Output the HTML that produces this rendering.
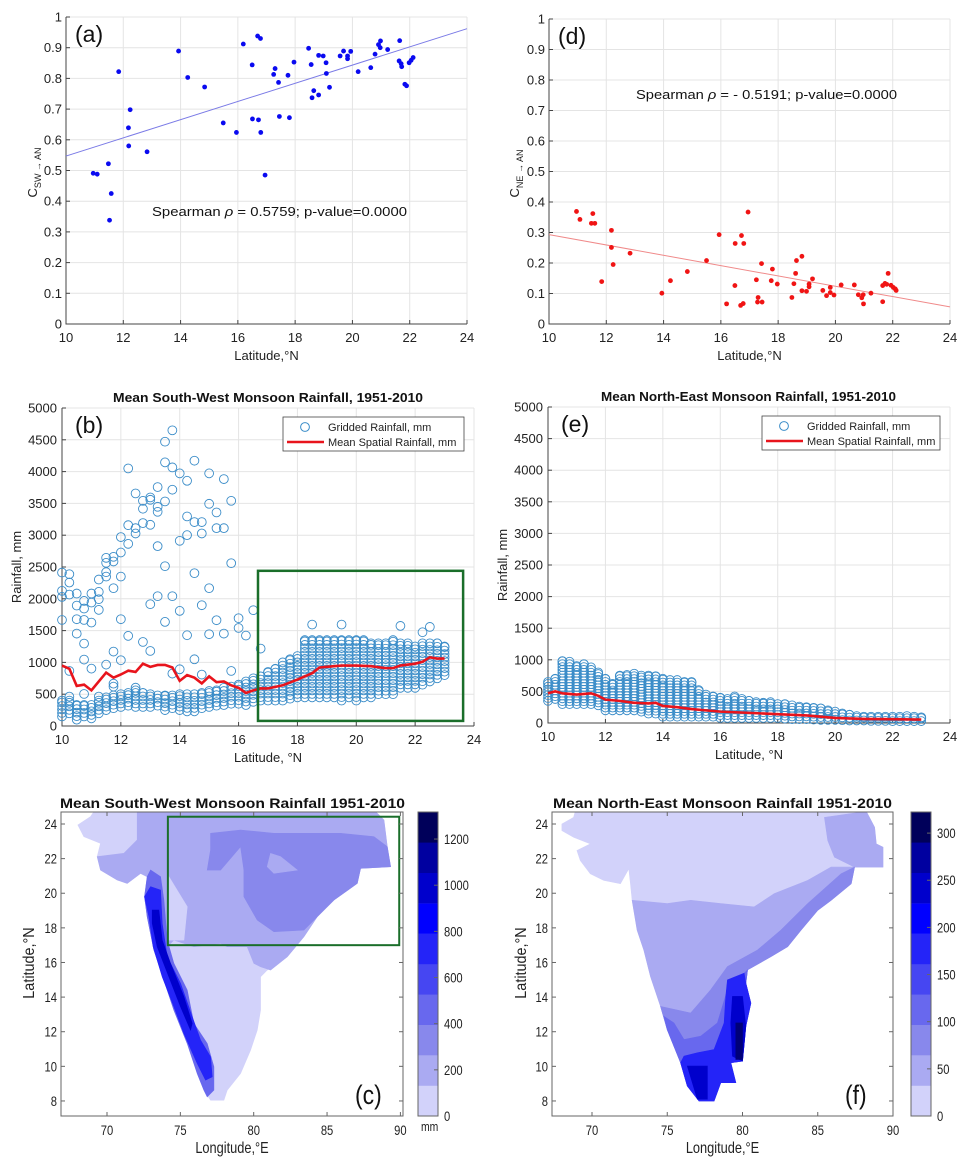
<!DOCTYPE html>
<html><head><meta charset="utf-8"><style>
html,body{margin:0;padding:0;background:#fff}
svg{display:block;font-family:"Liberation Sans",Arial,sans-serif}
</style></head><body>
<svg id="fig" width="971" height="1168" viewBox="0 0 971 1168" xmlns="http://www.w3.org/2000/svg"></svg>
<script>
// ---------- DATA ----------
// (a) correlation SW vs latitude
const aLat=[10.95,11.09,11.48,11.58,11.52,11.84,12.18,12.24,12.19,12.83,13.93,14.25,14.84,15.49,15.95,16.19,16.50,16.51,16.69,16.79,16.72,16.80,16.95,17.25,17.30,17.42,17.45,17.75,17.80,17.96,18.47,18.56,18.59,18.65,18.82,18.82,18.98,19.08,19.09,19.20,19.57,19.69,19.83,19.83,19.94,20.20,20.64,20.79,20.91,20.98,20.97,21.23,21.65,21.63,21.70,21.72,21.83,21.89,21.98,22.05,22.12];
const aVal=[0.491,0.488,0.522,0.425,0.338,0.822,0.639,0.698,0.580,0.561,0.889,0.803,0.772,0.655,0.624,0.912,0.844,0.668,0.938,0.930,0.665,0.624,0.485,0.813,0.832,0.787,0.676,0.810,0.672,0.853,0.898,0.845,0.737,0.760,0.746,0.875,0.873,0.851,0.816,0.771,0.873,0.889,0.873,0.864,0.888,0.822,0.835,0.879,0.910,0.922,0.900,0.894,0.923,0.857,0.848,0.838,0.781,0.776,0.851,0.859,0.868];
const aFit=[0.547,0.962];
// (d) correlation NE vs latitude
const dLat=[10.96,11.08,11.53,11.48,11.60,11.84,12.18,12.18,12.24,12.83,13.94,14.24,14.83,15.50,15.94,16.20,16.50,16.49,16.72,16.80,16.69,16.78,16.95,17.24,17.30,17.28,17.42,17.44,17.76,17.80,17.97,18.48,18.55,18.61,18.64,18.83,18.83,18.99,19.08,19.08,19.20,19.56,19.69,19.82,19.82,19.95,20.20,20.66,20.80,20.92,20.97,20.98,21.24,21.65,21.65,21.73,21.84,21.79,21.94,22.02,22.09,22.12];
const dVal=[0.369,0.343,0.362,0.330,0.330,0.139,0.307,0.251,0.195,0.232,0.101,0.142,0.172,0.208,0.293,0.066,0.264,0.126,0.290,0.264,0.061,0.067,0.367,0.145,0.087,0.072,0.198,0.072,0.142,0.180,0.131,0.087,0.132,0.166,0.208,0.222,0.109,0.107,0.122,0.131,0.148,0.110,0.093,0.120,0.103,0.095,0.128,0.128,0.096,0.086,0.096,0.066,0.101,0.073,0.126,0.133,0.166,0.130,0.127,0.120,0.115,0.110];
const dFit=[0.293,0.056];
// (b) SW gridded rainfall: dense band per latitude + scattered outliers + mean line
const bBandLat=[10,10.25,10.5,10.75,11,11.25,11.5,11.75,12,12.25,12.5,12.75,13,13.25,13.5,13.75,14,14.25,14.5,14.75,15,15.25,15.5,15.75,16,16.25,16.5,16.75,17,17.25,17.5,17.75,18,18.25,18.5,18.75,19,19.25,19.5,19.75,20,20.25,20.5,20.75,21,21.25,21.5,21.75,22,22.25,22.5,22.75,23];
const bBandLow=[150,200,100,150,120,200,250,280,300,320,300,300,300,320,250,280,250,230,230,280,300,320,330,350,350,330,380,400,400,400,400,430,450,450,450,450,450,450,400,450,400,450,450,500,500,500,600,600,600,650,700,750,800];
const bBandHigh=[400,400,330,330,330,400,450,480,500,520,560,520,500,480,480,480,500,500,500,520,550,560,600,620,650,700,750,780,850,900,1000,1050,1100,1350,1350,1350,1350,1350,1350,1350,1350,1350,1300,1300,1300,1350,1300,1300,1250,1300,1300,1300,1250];
const bOutLat=[10,10,10,10,10.25,10.25,10.25,10.25,10.25,10.5,10.5,10.5,10.5,10.75,10.75,10.75,10.75,10.75,10.75,11,11,11,11,11.25,11.25,11.25,11.25,11.25,11.5,11.5,11.5,11.5,11.5,11.75,11.75,11.75,11.75,11.75,11.75,12,12,12,12,12,12.25,12.25,12.25,12.25,12.5,12.5,12.5,12.5,12.75,12.75,12.75,12.75,13,13,13,13,13,13.25,13.25,13.25,13.25,13.25,13.5,13.5,13.5,13.5,13.5,13.75,13.75,13.75,13.75,13.75,14,14,14,14,14.25,14.25,14.25,14.25,14.5,14.5,14.5,14.5,14.75,14.75,14.75,14.75,15,15,15,15,15.25,15.25,15.25,15.5,15.5,15.5,15.75,15.75,15.75,16,16,16.25,16.5,16.75,18.5,19.5,21.5,22.25,22.5];
const bOutVal=[2413,2125,2030,1668,2387,2256,2067,866,462,2083,1894,1679,1453,1967,1847,1668,1296,1044,504,2083,1941,1626,902,2303,2109,1994,1826,462,2644,2566,2419,2350,965,2660,2587,2167,1170,666,619,2970,2728,2350,1679,1034,4050,3158,2864,1417,3657,3111,3027,603,3541,3416,3190,1322,3594,3557,3164,1915,1180,3757,3447,3368,2828,2041,4470,4145,3531,2513,1637,4649,4066,3715,2041,824,3972,2912,1810,892,3856,3295,3001,1427,4171,3206,2403,1049,3206,3027,1899,808,3972,3494,2167,1443,3358,3111,1663,3882,3111,1453,3541,2560,866,1695,1542,1422,1821,1217,1595,1595,1574,1474,1558];
const bMeanLat=[10,10.25,10.5,10.75,11,11.25,11.5,11.75,12,12.25,12.5,12.75,13,13.25,13.5,13.75,14,14.25,14.5,14.75,15,15.25,15.5,15.75,16,16.25,16.5,16.75,17,17.5,18,18.5,18.75,19,19.5,20,20.5,21,21.25,21.5,22,22.25,22.5,22.75,23];
const bMeanVal=[950,900,630,650,560,700,840,760,810,870,850,980,930,960,960,920,710,800,760,670,780,690,700,640,600,520,560,590,590,640,730,830,920,930,950,950,940,910,910,950,980,1010,1080,1060,1060];
const bBox=[16.66,23.63,80,2440];
// (e) NE gridded rainfall
const eBandLat=[10,10.25,10.5,10.75,11,11.25,11.5,11.75,12,12.25,12.5,12.75,13,13.25,13.5,13.75,14,14.25,14.5,14.75,15,15.25,15.5,15.75,16,16.25,16.5,16.75,17,17.25,17.5,17.75,18,18.25,18.5,18.75,19,19.25,19.5,19.75,20,20.25,20.5,20.75,21,21.25,21.5,21.75,22,22.25,22.5,22.75,23];
const eBandLow=[350,380,300,300,300,300,300,280,200,200,200,200,200,180,150,150,100,100,100,100,100,100,100,100,80,80,80,80,80,80,80,80,80,70,60,60,60,55,50,50,50,45,40,40,40,35,35,35,30,30,30,30,30];
const eBandHigh=[650,700,980,970,900,930,880,800,700,620,750,760,780,750,750,740,700,680,680,650,650,520,450,420,400,380,420,380,350,330,320,330,300,300,280,260,250,240,230,200,180,150,130,110,100,100,100,100,100,100,110,100,90];
const eMeanLat=[10,10.25,10.5,11,11.5,11.75,12,12.5,13,13.5,13.75,14,14.5,15,15.5,16,16.5,17,18,19,19.5,20,21,22,23];
const eMeanVal=[470,500,470,450,470,430,370,350,320,310,320,270,250,220,200,180,170,160,140,120,100,80,65,60,55];
// colour scales
const cmap=['#d2d2fa','#aaaaf2','#8888ec','#6868ee','#4646f2','#2424f8','#0000ff','#0000cc','#0000a0','#000078'];
const cTop=['#00005a'];
const swTicks=[0,200,400,600,800,1000,1200];
const neTicks=[0,50,100,150,200,250,300];
const latTicks=[8,10,12,14,16,18,20,22,24];
const lonTicks=[70,75,80,85,90];

// ---------- helpers ----------
const NS='http://www.w3.org/2000/svg';
const svg=document.getElementById('fig');
function el(tag,attrs,parent){const e=document.createElementNS(NS,tag);for(const k in attrs)e.setAttribute(k,attrs[k]);(parent||svg).appendChild(e);return e;}
function txt(s,x,y,o,parent){const t=el('text',Object.assign({x:x,y:y,'font-size':12,fill:'#222'},o||{}),parent);t.textContent=s;return t;}
function grp(name){const g=el('g',{});return g;}

// ---------- scatter panels (a),(d) ----------
function corrPanel(cfg){
  const g=grp(cfg.name);
  const sx=v=>cfg.x0+(v-10)*(cfg.x1-cfg.x0)/14, sy=v=>cfg.y1-v*(cfg.y1-cfg.y0);
  for(let t=10;t<=24;t+=2){const l=el('line',{x1:sx(t),x2:sx(t),y1:cfg.y0,y2:cfg.y1,stroke:'#e4e4e4','stroke-width':1},g);}
  for(let i=0;i<=10;i++){const l=el('line',{x1:cfg.x0,x2:cfg.x1,y1:sy(i/10),y2:sy(i/10),stroke:'#e4e4e4','stroke-width':1},g);}
  const ax=el('path',{d:`M${cfg.x0},${cfg.y0}V${cfg.y1}H${cfg.x1}`,fill:'none',stroke:'#444','stroke-width':1},g);
  
  for(let t=10;t<=24;t+=2){el('line',{x1:sx(t),x2:sx(t),y1:cfg.y1,y2:cfg.y1-4,stroke:'#444'},g);
    const tl=txt(String(t),sx(t),cfg.y1+18,{'text-anchor':'middle','font-size':13},g);}
  for(let i=0;i<=10;i++){const v=i/10;el('line',{x1:cfg.x0,x2:cfg.x0+4,y1:sy(v),y2:sy(v),stroke:'#444'},g);
    const tl=txt(i===0?'0':(i===10?'1':v.toFixed(1)),cfg.x0-4,sy(v)+4.5,{'text-anchor':'end','font-size':13},g);}
  const fl=el('line',{x1:sx(10),y1:sy(cfg.fit[0]),x2:sx(24),y2:sy(cfg.fit[1]),stroke:cfg.lineColor,'stroke-width':1},g);
  
  for(let i=0;i<cfg.lat.length;i++){const c=el('circle',{cx:sx(cfg.lat[i]),cy:sy(cfg.val[i]),r:2.4,fill:cfg.dot},g);
    }
  const pl=txt(cfg.label,cfg.x0+9,cfg.y0+25,{'font-size':23,fill:'#111'},g);
  const st=txt('',cfg.sx,cfg.sy,{'font-size':13,fill:'#111',textLength:cfg.sw,lengthAdjust:'spacingAndGlyphs'},g);
  
  st.innerHTML=cfg.stat;
  const xl=txt('Latitude,°N',(cfg.x0+cfg.x1)/2,cfg.y1+36,{'text-anchor':'middle','font-size':13},g);
  const yl=el('text',{transform:`translate(${cfg.yx},${(cfg.y0+cfg.y1)/2+2}) rotate(-90)`,'text-anchor':'middle','font-size':13,fill:'#222'},g);
  
  yl.innerHTML=`C<tspan font-size="9" dy="4">${cfg.sub} → AN</tspan>`;
}
corrPanel({name:'panel-a',x0:66,x1:467,y0:17,y1:324,lat:aLat,val:aVal,fit:aFit,lineColor:'#7a7ae6',dot:'#0a0af0',label:'(a)',
  stat:'Spearman <tspan font-style="italic">ρ</tspan> =  0.5759; p-value=0.0000',sx:152,sy:216,sw:255,sub:'SW',yx:37});
corrPanel({name:'panel-d',x0:549,x1:950,y0:19,y1:324,lat:dLat,val:dVal,fit:dFit,lineColor:'#f08a8a',dot:'#f01414',label:'(d)',
  stat:'Spearman <tspan font-style="italic">ρ</tspan> = - 0.5191; p-value=0.0000',sx:636,sy:99,sw:261,sub:'NE',yx:519});

// ---------- rainfall panels (b),(e) ----------
function rainPanel(cfg){
  const g=grp(cfg.name);
  const sx=v=>cfg.x0+(v-10)*(cfg.x1-cfg.x0)/14, sy=v=>cfg.y1-v*(cfg.y1-cfg.y0)/5000;
  for(let t=10;t<=24;t+=2){const l=el('line',{x1:sx(t),x2:sx(t),y1:cfg.y0,y2:cfg.y1,stroke:'#e4e4e4'},g);}
  for(let v=0;v<=5000;v+=500){const l=el('line',{x1:cfg.x0,x2:cfg.x1,y1:sy(v),y2:sy(v),stroke:'#e4e4e4'},g);}
  const ax=el('path',{d:`M${cfg.x0},${cfg.y0}V${cfg.y1}H${cfg.x1}`,fill:'none',stroke:'#444'},g);
  
  for(let t=10;t<=24;t+=2){el('line',{x1:sx(t),x2:sx(t),y1:cfg.y1,y2:cfg.y1-4,stroke:'#444'},g);
    const tl=txt(String(t),sx(t),cfg.y1+18,{'text-anchor':'middle','font-size':13},g);}
  for(let v=0;v<=5000;v+=500){el('line',{x1:cfg.x0,x2:cfg.x0+4,y1:sy(v),y2:sy(v),stroke:'#444'},g);
    const tl=txt(String(v),cfg.x0-5,sy(v)+4.5,{'text-anchor':'end','font-size':13},g);}
  const pts=el('g',{fill:'none',stroke:'#3a8cc8','stroke-width':0.9},g);
  
  for(let i=0;i<cfg.bandLat.length;i++){
    for(let v=cfg.bandLow[i];v<=cfg.bandHigh[i];v+=cfg.step){const c=el('circle',{cx:sx(cfg.bandLat[i]),cy:sy(v),r:4.4},pts);
      }
    const c=el('circle',{cx:sx(cfg.bandLat[i]),cy:sy(cfg.bandHigh[i]),r:4.4},pts);
    
  }
  for(let i=0;i<cfg.outLat.length;i++){const c=el('circle',{cx:sx(cfg.outLat[i]),cy:sy(cfg.outVal[i]),r:4.4},pts);
    }
  const ml=el('polyline',{points:cfg.meanLat.map((l,i)=>sx(l)+','+sy(cfg.meanVal[i])).join(' '),fill:'none',stroke:'#e8141c','stroke-width':2.6},g);
  
  if(cfg.box){const b=el('rect',{x:sx(cfg.box[0]),y:sy(cfg.box[3]),width:sx(cfg.box[1])-sx(cfg.box[0]),height:sy(cfg.box[2])-sy(cfg.box[3]),fill:'none',stroke:'#1a6e2a','stroke-width':2.5},g);
    }
  // legend
  const lg=grp('legend');g.appendChild(lg);
  el('rect',{x:cfg.lx,y:cfg.y0+9,width:cfg.lw,height:34,fill:'#fff',stroke:'#444','stroke-width':0.8},lg);
  const c1=el('circle',{cx:cfg.lx+22,cy:cfg.y0+19,r:4.4,fill:'none',stroke:'#3a8cc8'},lg);
  const t1=txt('Gridded Rainfall, mm',cfg.lx+45,cfg.y0+23,{'font-size':11},lg);
  const l2=el('line',{x1:cfg.lx+4,x2:cfg.lx+41,y1:cfg.y0+34,y2:cfg.y0+34,stroke:'#e8141c','stroke-width':2.6},lg);
  const t2=txt('Mean Spatial Rainfall, mm',cfg.lx+45,cfg.y0+38,{'font-size':11},lg);
  const pl=txt(cfg.label,cfg.x0+13,cfg.y0+25,{'font-size':23,fill:'#111'},g);
  const ti=txt(cfg.title,cfg.tx,cfg.y0-6,{'font-size':13,'font-weight':'bold',fill:'#111',textLength:cfg.tw,lengthAdjust:'spacingAndGlyphs'},g);
  const xl=txt('Latitude, °N',(cfg.x0+cfg.x1)/2,cfg.y1+36,{'text-anchor':'middle','font-size':13},g);
  const yl=txt('Rainfall, mm',0,0,{'text-anchor':'middle','font-size':13,transform:`translate(${cfg.yx},${(cfg.y0+cfg.y1)/2}) rotate(-90)`},g);
}
rainPanel({name:'panel-b',x0:62,x1:474,y0:408,y1:726,bandLat:bBandLat,bandLow:bBandLow,bandHigh:bBandHigh,step:55,outLat:bOutLat,outVal:bOutVal,meanLat:bMeanLat,meanVal:bMeanVal,box:bBox,
  lx:283,lw:181,label:'(b)',title:'Mean South-West Monsoon Rainfall, 1951-2010',tx:113,tw:310,yx:21});
rainPanel({name:'panel-e',x0:548,x1:950,y0:407,y1:723,bandLat:eBandLat,bandLow:eBandLow,bandHigh:eBandHigh,step:45,outLat:[],outVal:[],meanLat:eMeanLat,meanVal:eMeanVal,box:null,
  lx:762,lw:178,label:'(e)',title:'Mean North-East Monsoon Rainfall, 1951-2010',tx:601,tw:295,yx:507});

// ---------- maps (c),(f) ----------
// outlines / zones (reference-crop coordinates converted to lon/lat)
const swRef=p=>[66.9+(p[0]-63)/44,24-(p[1]-102)/51.9];
const neRef=p=>[70+(p[0]-155)/45,24-(p[1]-100)/52.2];
const swZones=[
 {lv:0,pts:[[112,105],[150,80],[160,65],[1005,65],[1030,90],[1040,170],[1050,230],[960,235],[950,280],[880,330],[830,380],[790,440],[740,500],[680,540],[660,560],[660,660],[650,720],[630,780],[600,850],[560,900],[550,930],[510,930],[490,900],[470,850],[440,760],[400,660],[370,570],[340,480],[320,380],[312,320],[320,260],[300,250],[260,280],[230,270],[180,240],[170,200],[180,160],[130,140]]},
 {lv:1,pts:[[290,65],[1005,65],[1030,90],[1040,170],[1050,230],[960,235],[950,280],[880,330],[830,380],[790,440],[740,500],[690,540],[660,530],[640,520],[620,470],[560,470],[540,460],[460,470],[400,450],[380,470],[340,480],[320,380],[312,320],[320,260],[300,250],[260,280],[230,270],[180,240],[170,200],[250,190],[290,150]]},
 {lv:0,pts:[[385,260],[440,350],[430,450],[385,450]]},
 {lv:2,pts:[[510,130],[600,120],[700,130],[900,130],[1000,140],[1040,170],[1050,230],[960,235],[950,280],[880,330],[830,380],[790,420],[700,425],[650,390],[610,320],[610,240],[600,170],[540,240],[500,240],[510,180]]},
 {lv:1,pts:[[690,190],[720,200],[770,240],[700,250],[680,230]]},
 {lv:3,pts:[[330,240],[360,260],[370,330],[380,450],[400,520],[440,600],[460,700],[500,760],[520,830],[520,900],[500,920],[490,900],[470,850],[440,760],[400,660],[370,570],[340,480],[320,380],[312,320],[320,260]]},
 {lv:5,pts:[[330,290],[360,300],[365,400],[380,500],[420,580],[455,680],[480,750],[510,800],[515,860],[495,870],[470,820],[430,730],[400,650],[365,560],[338,470],[325,380],[312,320]]},
 {lv:7,pts:[[335,360],[355,360],[365,450],[390,520],[430,620],[455,700],[450,720],[420,650],[385,560],[350,470],[335,400]]}
];
const neZones=[
 {lv:0,pts:[[65,100],[100,80],[105,62],[975,62],[1000,110],[1005,160],[1025,170],[1025,230],[940,230],[930,280],[870,330],[830,360],[780,420],[740,470],[690,500],[620,540],[615,580],[630,640],[615,710],[605,815],[570,820],[585,880],[540,880],[520,935],[475,935],[440,890],[420,820],[380,720],[360,650],[330,560],[310,480],[290,420],[275,330],[270,280],[265,235],[240,280],[190,270],[150,250],[120,210],[110,180],[150,160],[100,140],[65,120]]},
 {lv:1,pts:[[850,80],[975,62],[1000,110],[1005,160],[1025,170],[1025,230],[940,230],[880,200],[860,150]]},
 {lv:1,pts:[[275,330],[380,340],[450,330],[540,340],[640,350],[700,310],[800,270],[870,230],[940,230],[930,280],[870,330],[830,360],[780,420],[740,470],[690,500],[620,540],[615,580],[630,640],[615,710],[605,815],[570,820],[585,880],[540,880],[520,935],[475,935],[440,890],[420,820],[380,720],[360,650],[330,560],[310,480],[290,420]]},
 {lv:2,pts:[[360,650],[450,670],[510,600],[560,530],[650,480],[720,420],[800,340],[900,250],[940,230],[930,280],[870,330],[830,360],[780,420],[740,470],[690,500],[620,540],[615,580],[630,640],[615,710],[605,815],[570,820],[585,880],[540,880],[520,935],[475,935],[440,890],[420,820],[380,720]]},
 {lv:3,pts:[[370,680],[400,700],[430,750],[480,740],[530,700],[560,600],[600,560],[620,540],[615,580],[630,640],[615,710],[605,815],[570,820],[585,880],[540,880],[520,935],[475,935],[440,890],[420,820],[380,720]]},
 {lv:5,pts:[[560,570],[610,550],[615,580],[630,640],[615,710],[605,815],[570,820],[585,880],[540,880],[520,935],[475,935],[440,890],[420,820],[430,800],[470,790],[520,780],[550,700],[555,620]]},
 {lv:7,pts:[[575,620],[605,620],[615,710],[605,815],[575,800],[570,700]]},
 {lv:7,pts:[[440,830],[500,830],[500,930],[470,930]]},
 {lv:9,pts:[[585,700],[605,700],[605,810],[585,810]]}
];
const swBox=[74.15,89.92,17.0,24.42];

function mapPanel(cfg){
  const g=grp(cfg.name);
  const sx=lon=>cfg.lon70+(lon-70)*cfg.pxDeg, sy=lat=>824+(24-lat)*17.31;
  const clip=el('clipPath',{id:cfg.name+'-clip'},g);
  el('rect',{x:cfg.x0,y:812,width:cfg.x1-cfg.x0,height:304},clip);
  const zg=el('g',{'clip-path':`url(#${cfg.name}-clip)`},g);
  
  cfg.zones.forEach(z=>{const p=el('polygon',{points:z.pts.map(q=>{const ll=cfg.ref(q);return sx(ll[0])+','+sy(ll[1]);}).join(' '),fill:cmap[z.lv],stroke:cmap[z.lv],'stroke-width':0.6},zg);
    });
  if(cfg.box){const b=el('rect',{x:sx(cfg.box[0]),y:sy(cfg.box[3]),width:sx(cfg.box[1])-sx(cfg.box[0]),height:sy(cfg.box[2])-sy(cfg.box[3]),fill:'none',stroke:'#1a6e2a','stroke-width':2},g);
    }
  const fr=el('rect',{x:cfg.x0,y:812,width:cfg.x1-cfg.x0,height:304,fill:'none',stroke:'#666','stroke-width':1},g);
  
  latTicks.forEach(t=>{el('line',{x1:cfg.x0,x2:cfg.x0+4,y1:sy(t),y2:sy(t),stroke:'#666'},g);el('line',{x1:cfg.x1,x2:cfg.x1-4,y1:sy(t),y2:sy(t),stroke:'#666'},g);
    const tl=txt(String(t),cfg.x0-4,sy(t)+5,{'text-anchor':'end','font-size':14,transform:`translate(${cfg.x0-4},0) scale(0.8,1) translate(${-(cfg.x0-4)},0)`},g);});
  lonTicks.forEach(t=>{el('line',{x1:sx(t),x2:sx(t),y1:1116,y2:1112,stroke:'#666'},g);el('line',{x1:sx(t),x2:sx(t),y1:812,y2:816,stroke:'#666'},g);
    const tl=txt(String(t),sx(t),1135,{'text-anchor':'middle','font-size':14,transform:`translate(${sx(t)},0) scale(0.8,1) translate(${-sx(t)},0)`},g);});
  // colorbar
  const cb=grp('colorbar');g.appendChild(cb);
  for(let i=0;i<10;i++){const r=el('rect',{x:cfg.cbx,y:1116-(i+1)*30.4,width:20,height:30.6,fill:i===9?cTop[0]:cmap[i]},cb);}
  el('rect',{x:cfg.cbx,y:812,width:20,height:304,fill:'none',stroke:'#666'},cb);
  cfg.cbTicks.forEach(v=>{const y=1116-v*cfg.cbScale;el('line',{x1:cfg.cbx+20,x2:cfg.cbx+16,y1:y,y2:y,stroke:'#666'},cb);
    const tl=txt(String(v),cfg.cbx+26,y+5,{'font-size':14,transform:`translate(${cfg.cbx+26},0) scale(0.8,1) translate(${-(cfg.cbx+26)},0)`},cb);});
  if(cfg.unit){const u=txt(cfg.unit,cfg.cbx+3,1131,{'font-size':13,transform:`translate(${cfg.cbx+3},0) scale(0.8,1) translate(${-(cfg.cbx+3)},0)`},cb);}
  const ti=txt(cfg.title,cfg.tx,808,{'font-size':14,'font-weight':'bold',fill:'#111',textLength:cfg.tw,lengthAdjust:'spacingAndGlyphs'},g);
  const pl=txt(cfg.label,cfg.lx,1104,{'font-size':27,fill:'#111',transform:`translate(${cfg.lx},0) scale(0.85,1) translate(${-cfg.lx},0)`},g);
  const xl=txt('Longitude,°E',(cfg.x0+cfg.x1)/2,1153,{'text-anchor':'middle','font-size':16,transform:`translate(${(cfg.x0+cfg.x1)/2},0) scale(0.8,1) translate(${-(cfg.x0+cfg.x1)/2},0)`},g);
  const yl=txt('Latitude,°N',0,0,{'text-anchor':'middle','font-size':16,transform:`translate(${cfg.yx},963) rotate(-90) scale(0.9,1)`},g);
}
mapPanel({name:'panel-c',x0:61,x1:403,lon70:107,pxDeg:14.67,zones:swZones,ref:swRef,box:swBox,cbx:418,cbTicks:swTicks,cbScale:0.2308,unit:'mm',
  title:'Mean South-West Monsoon Rainfall 1951-2010',tx:60,tw:345,label:'(c)',lx:355,yx:34});
mapPanel({name:'panel-f',x0:552,x1:893,lon70:592,pxDeg:15.05,zones:neZones,ref:neRef,box:null,cbx:911,cbTicks:neTicks,cbScale:0.943,unit:null,
  title:'Mean North-East Monsoon Rainfall 1951-2010',tx:553,tw:339,label:'(f)',lx:845,yx:526});
</script>
</body></html>
